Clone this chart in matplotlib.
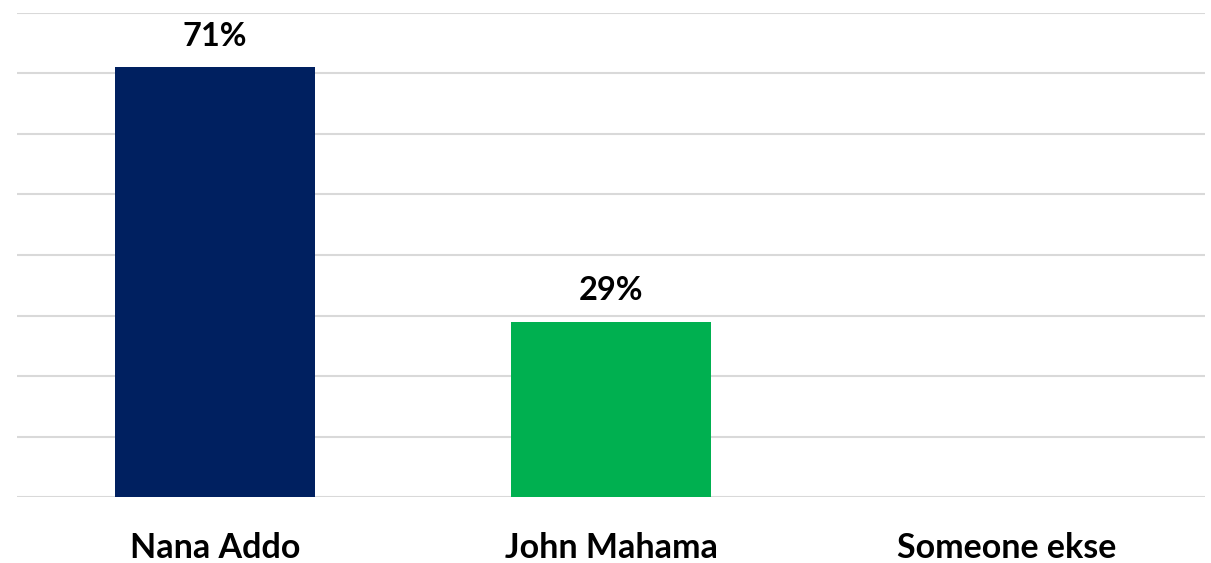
import matplotlib.pyplot as plt

# poll results
candidates = ["Nana Addo", "John Mahama", "Someone ekse"]
shares = [71, 29, 0]
bar_colors = ["#002060", "#00B050", "#7F7F7F"]

plt.rcParams['font.family'] = ['Lato', 'DejaVu Sans']

fig = plt.figure(figsize=(12.11, 5.63), dpi=100)
ax = fig.add_axes([17 / 1211, 1 - 497 / 563, 1188 / 1211, 484 / 563])

x = range(len(candidates))
bars = ax.bar(x, shares, width=0.505, color=bar_colors, zorder=3)

# data labels, skip the empty one
for b, v in zip(bars, shares):
    if v > 0:
        ax.annotate(f"{v}%", (b.get_x() + b.get_width() / 2, v),
                    xytext=(0, 12), textcoords="offset points",
                    ha="center", va="bottom", fontsize=23.5, fontweight="bold")

ax.set_xlim(-0.5, 2.5)
ax.set_ylim(0, 80)
ax.set_yticks(range(0, 81, 10))
ax.set_yticklabels([])
ax.tick_params(axis="y", length=0)
ax.grid(axis="y", color="#D9D9D9", linewidth=1.5, zorder=0)

ax.set_xticks(list(x))
ax.set_xticklabels(candidates, fontsize=24.5, fontweight="bold")
ax.tick_params(axis="x", length=0, pad=25)

for s in ax.spines.values():
    s.set_visible(False)

fig.savefig("out.png", dpi=100)
